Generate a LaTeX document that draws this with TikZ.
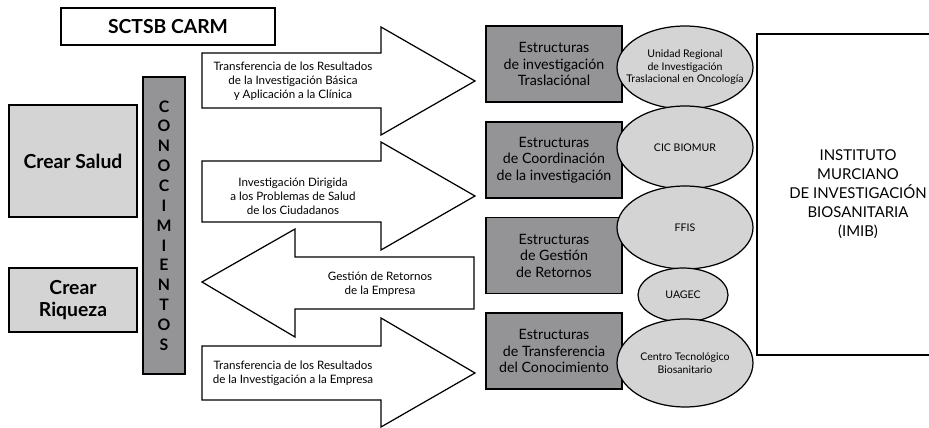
\documentclass[tikz,border=0pt]{standalone}
\usepackage{fontspec}
\setmainfont{Lato}
\usetikzlibrary{shapes.geometric}
\definecolor{lightfill}{RGB}{212,212,212}
\definecolor{darkfill}{RGB}{148,148,150}

\begin{document}
\begin{tikzpicture}[x=0.02cm,y=-0.02cm,line width=0.7pt,
   lbox/.style={rectangle,draw,fill=lightfill,inner sep=0pt,align=center,
    minimum width=2.56cm,font=\fontsize{11}{12.8}\selectfont\bfseries},
   dbox/.style={rectangle,draw,fill=darkfill,inner sep=0pt,align=center,
    minimum width=2.72cm,minimum height=1.52cm,font=\fontsize{8.1}{9.4}\selectfont},
   oval/.style={ellipse,draw,fill=lightfill,inner sep=0pt,
    minimum width=2.72cm,minimum height=1.66cm},
   otxt/.style={align=center,inner sep=0pt,font=\fontsize{6}{7.1}\selectfont},
   flow/.style={draw,fill=white,line join=miter},
   ftxt/.style={align=center,inner sep=0pt,font=\fontsize{6.6}{7.9}\selectfont}
    ]
  \useasboundingbox (0,0) rectangle (929,428);

  % -- left column
  \node[rectangle,draw,minimum width=4.28cm,minimum height=0.74cm,
    font=\fontsize{11}{12}\selectfont\bfseries] at (168,26.5) (carm) {SCTSB CARM};
  \node[lbox,minimum height=2.24cm] at (73,161) (salud) {Crear Salud};
  \node[lbox,minimum height=1.28cm] at (73,300) (riqueza) {Crear\\Riqueza};
  \node[rectangle,draw,fill=darkfill,minimum width=0.84cm,minimum height=5.94cm,
    inner sep=0pt,align=center,font=\fontsize{9}{11.3}\selectfont\bfseries]
    at (164,225.5) (conoc) {C\\O\\N\\O\\C\\I\\M\\I\\E\\N\\T\\O\\S};

  % -- arrows
  \draw[flow] (202,53) -- (381,53) -- (381,27) -- (475,81) -- (381,135)
    -- (381,108) -- (202,108) -- cycle;
  \draw[flow] (202,161) -- (381,161) -- (381,142) -- (475,196) -- (381,250)
    -- (381,222) -- (202,222) -- cycle;
  \draw[flow] (474,257) -- (295,257) -- (295,229) -- (202,282) -- (295,337)
    -- (295,309) -- (474,309) -- cycle;
  \draw[flow] (202,346) -- (381,346) -- (381,318) -- (475,373) -- (381,427)
    -- (381,400) -- (202,400) -- cycle;
  \node[ftxt] at (293,81) (f1) {Transferencia de los Resultados\\de la Investigación Básica\\y Aplicación a la Clínica};
  \node[ftxt] at (293,196) (f2) {Investigación Dirigida\\a los Problemas de Salud\\de los Ciudadanos};
  \node[ftxt] at (380,284.5) (f3) {Gestión de Retornos\\de la Empresa};
  \node[ftxt] at (293,373) (f4) {Transferencia de los Resultados\\de la Investigación a la Empresa};

  % -- structures
  \node[dbox] at (554,64) (e1) {Estructuras\\de investigación\\Traslaciónal};
  \node[dbox] at (554,160) (e2) {Estructuras\\de Coordinación\\de la investigación};
  \node[dbox] at (554,255.5) (e3) {Estructuras\\de Gestión\\de Retornos};
  \node[dbox] at (554,351) (e4) {Estructuras\\de Transferencia\\del Conocimiento};

  % -- ovals
  \node[oval] at (685,67.5) (u1) {};
  \node[oval] at (685,147.5) (u2) {};
  \node[oval] at (685,227.5) (u3) {};
  \node[oval,minimum width=1.8cm,minimum height=1.08cm] at (683,295) (u4) {};
  \node[oval,minimum height=1.76cm] at (685,363) (u5) {};
  \node[otxt] at (u1) (u1t) {Unidad Regional\\de Investigación\\Traslacional en Oncología};
  \node[otxt] at (u2) (u2t) {CIC BIOMUR};
  \node[otxt] at (u3) (u3t) {FFIS};
  \node[otxt] at (u4) (u4t) {UAGEC};
  \node[otxt] at (u5) (u5t) {Centro Tecnológico\\Biosanitario};

  % -- institute
  \node[rectangle,draw,minimum width=4.04cm,minimum height=6.42cm,align=center,
    font=\fontsize{8.5}{10.8}\selectfont] at (858,194.5) (imib)
    {INSTITUTO\\MURCIANO\\DE INVESTIGACIÓN\\BIOSANITARIA\\(IMIB)};

\end{tikzpicture}
\end{document}
